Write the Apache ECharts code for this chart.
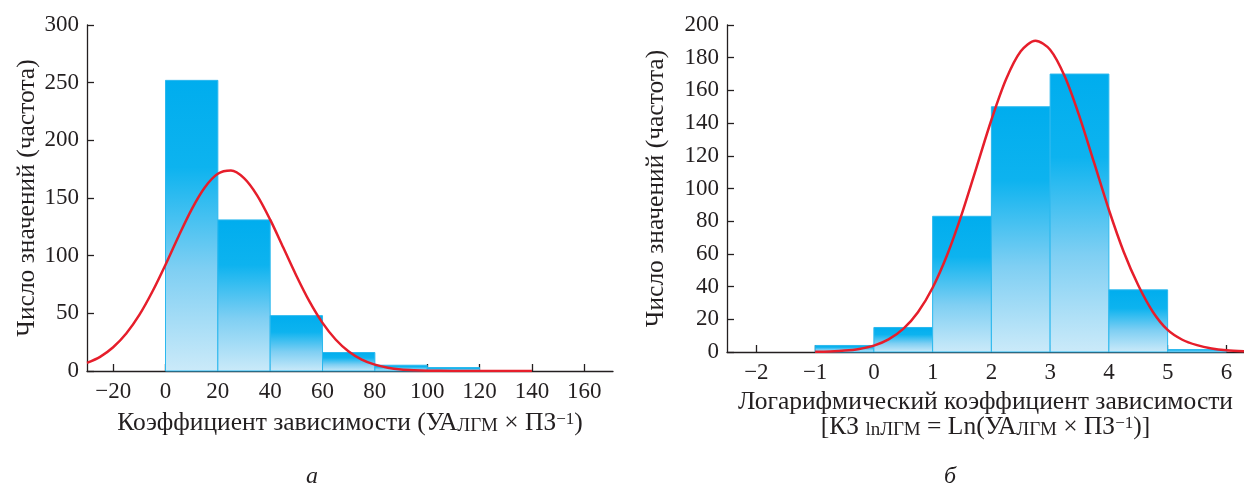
<!DOCTYPE html>
<html>
<head>
<meta charset="utf-8">
<script src="https://cdn.jsdelivr.net/npm/echarts@6/dist/echarts.min.js"></script>
<style>html,body{margin:0;padding:0;background:#fff}#c{width:1244px;height:486px}</style>
</head>
<body>
<div id="c"></div>
<script>
// ---- Left histogram (a) ----
const leftBinStarts = [0, 20, 40, 60, 80, 100];
const leftBinEnds   = [20, 40, 60, 80, 100, 120];
const leftCounts    = [252, 131, 48, 16, 5, 3];
const leftCurveX = [-30, -25, -20, -15, -10, -5, 0, 5, 10, 15, 20, 25, 30, 35, 40, 45, 50, 55, 60, 65, 70, 75, 80, 85, 90, 95, 100, 110, 120, 130, 140];
const leftCurveY = [7, 12.3, 20.6, 32.5, 48.6, 68.9, 92.2, 116.9, 140.2, 159.1, 171, 173.8, 167.2, 152.3, 131.2, 107, 82.6, 60.3, 41.7, 27.3, 16.9, 9.9, 5.5, 2.9, 1.4, 0.7, 0.3, 0.05, 0, 0, 0];
const leftXTicks = [-20, 0, 20, 40, 60, 80, 100, 120, 140, 160];

// ---- Right histogram (б) ----
const rightBinStarts = [-1, 0, 1, 2, 3, 4, 5];
const rightBinEnds   = [0, 1, 2, 3, 4, 5, 6];
const rightCounts    = [4, 15, 83, 150, 170, 38, 1.5];
const rightCurveX = [-1, -0.75, -0.5, -0.25, 0, 0.25, 0.5, 0.75, 1, 1.25, 1.5, 1.75, 2, 2.25, 2.5, 2.75, 3, 3.25, 3.5, 3.75, 4, 4.25, 4.5, 4.75, 5, 5.25, 5.5, 5.75, 6, 6.3];
const rightCurveY = [0.1, 0.36, 0.85, 1.9, 3.9, 7.7, 14.1, 24.3, 39.3, 59.6, 84.8, 113.3, 141.9, 166.8, 183.9, 190.4, 184.9, 168.5, 144, 115.6, 87, 61.5, 40.8, 24.5, 13.5, 7.5, 4.2, 2.2, 1.1, 0.4];
const rightXTicks = [-2, -1, 0, 1, 2, 3, 4, 5, 6];

const INK = '#231F20';
const FONT = '"Liberation Serif", "DejaVu Serif", serif';

function bins(starts, ends, counts) {
  return starts.map((s, i) => [s, ends[i], counts[i]]);
}
function pts(xs, ys) { return xs.map((x, i) => [x, ys[i]]); }

const barGradient = new echarts.graphic.LinearGradient(0, 0, 0, 1, [
  { offset: 0, color: '#00ADEE' },
  { offset: 0.3, color: '#0DB3EF' },
  { offset: 0.65, color: '#7FCFF3' },
  { offset: 1, color: '#CBEAF9' }
]);

function renderBar(params, api) {
  const p0 = api.coord([api.value(0), api.value(2)]);
  const p1 = api.coord([api.value(1), 0]);
  return {
    type: 'rect',
    shape: { x: p0[0], y: p0[1], width: p1[0] - p0[0], height: p1[1] - p0[1] },
    style: { fill: barGradient, stroke: '#2BB8EE', lineWidth: 1 }
  };
}

const minusFmt = v => String(v).replace('-', '\u2212');

const rich = {
  sub: { fontFamily: FONT, fontSize: 19, color: INK, verticalAlign: 'bottom', padding: [14, 0, 0, 0] },
  sup: { fontFamily: FONT, fontSize: 17, color: INK, verticalAlign: 'top', padding: [0, 0, 12, 0] }
};

function xAxisCommon(min, max, ticks) {
  return {
    type: 'value', min: min, max: max,
    splitLine: { show: false },
    axisLine: { onZero: false, lineStyle: { color: INK, width: 1.3 } },
    axisTick: { inside: true, length: 7, customValues: ticks, lineStyle: { color: INK, width: 1.3 } },
    axisLabel: { customValues: ticks, formatter: minusFmt, color: INK, fontFamily: FONT, fontSize: 23, margin: 9 },
    nameLocation: 'middle',
    nameTextStyle: { color: INK, fontFamily: FONT, fontSize: 25.5, rich: rich, lineHeight: 25 }
  };
}
function yAxisCommon(max, interval, gap) {
  return {
    type: 'value', min: 0, max: max, interval: interval,
    splitLine: { show: false },
    axisLine: { show: true, onZero: false, lineStyle: { color: INK, width: 1.3 } },
    axisTick: { show: true, inside: true, length: 7, lineStyle: { color: INK, width: 1.3 } },
    axisLabel: { color: INK, fontFamily: FONT, fontSize: 23, margin: 8 },
    name: 'Число значений (частота)',
    nameLocation: 'middle', nameRotate: 90, nameGap: gap,
    nameTextStyle: { color: INK, fontFamily: FONT, fontSize: 25.5 }
  };
}

const chart = echarts.init(document.getElementById('c'), null, { renderer: 'canvas' });

const xL = xAxisCommon(-30, 171, leftXTicks);
xL.gridIndex = 0;
xL.name = 'Коэффициент зависимости (УА{sub|ЛГМ} × ПЗ{sup|−1})';
xL.nameGap = 40;

const xR = xAxisCommon(-2.5, 6.3, rightXTicks);
xR.gridIndex = 1;
xR.name = 'Логарифмический коэффициент зависимости\n[КЗ {sub|lnЛГМ} = Ln(УА{sub|ЛГМ} × ПЗ{sup|−1})]';
xR.nameGap = 38;

const yL = yAxisCommon(300, 50, 47); yL.gridIndex = 0;
const yR = yAxisCommon(200, 20, 58); yR.gridIndex = 1;

chart.setOption({
  animation: false,
  backgroundColor: '#ffffff',
  grid: [
    { left: 87, top: 25, right: 631, bottom: 115 },
    { left: 727, top: 25, right: 0, bottom: 134 }
  ],
  xAxis: [xL, xR],
  yAxis: [yL, yR],
  series: [
    { type: 'custom', xAxisIndex: 0, yAxisIndex: 0, renderItem: renderBar,
      encode: { x: [0, 1], y: 2 }, data: bins(leftBinStarts, leftBinEnds, leftCounts), z: 1 },
    { type: 'line', xAxisIndex: 0, yAxisIndex: 0, data: pts(leftCurveX, leftCurveY),
      smooth: 0.3, showSymbol: false, lineStyle: { color: '#E61E2B', width: 2.5 }, z: 3 },
    { type: 'custom', xAxisIndex: 1, yAxisIndex: 1, renderItem: renderBar,
      encode: { x: [0, 1], y: 2 }, data: bins(rightBinStarts, rightBinEnds, rightCounts), z: 1 },
    { type: 'line', xAxisIndex: 1, yAxisIndex: 1, data: pts(rightCurveX, rightCurveY),
      smooth: 0.3, showSymbol: false, lineStyle: { color: '#E61E2B', width: 2.5 }, z: 3 }
  ],
  graphic: [
    { type: 'text', left: 306, top: 465, style: { text: 'а', fill: INK, font: 'italic 24px ' + FONT } },
    { type: 'text', left: 944, top: 465, style: { text: 'б', fill: INK, font: 'italic 24px ' + FONT } }
  ]
});
</script>
</body>
</html>
